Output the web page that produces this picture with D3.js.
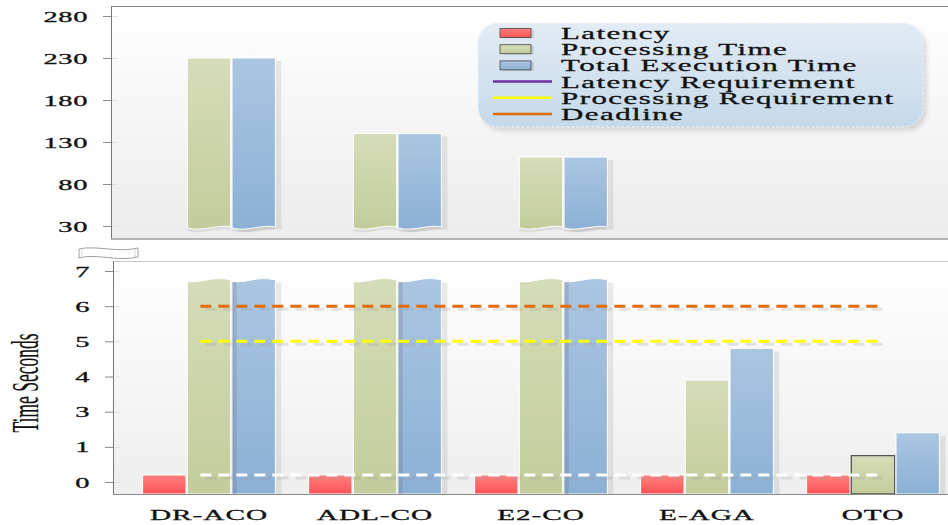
<!DOCTYPE html>
<html>
<head>
<meta charset="utf-8">
<script src="https://cdn.jsdelivr.net/npm/d3@7"></script>
<style>
  html, body { margin: 0; padding: 0; background: #fff; }
  svg { display: block; }
  text { font-family: "Liberation Serif", "Times New Roman", serif; fill: #111; stroke: #111; stroke-width: 0.3; }
</style>
</head>
<body>
<svg id="chart" width="948" height="525"></svg>
<script>
// ---- data ----
const categories = ['DR-ACO', 'ADL-CO', 'E2-CO', 'E-AGA', 'OTO'];
const seriesNames = ['Latency', 'Processing Time', 'Total Execution Time'];
const latency = [0.2, 0.2, 0.2, 0.2, 0.2];
const processingTime = [230, 140, 112, 3.9, 0.75];
const totalExecutionTime = [230, 140, 112, 4.8, 1.8];
const upperTicks = [30, 80, 130, 180, 230, 280];
const lowerTicks = [0, 1, 3, 4, 5, 6, 7];
const latencyRequirement = 0.2;
const processingRequirement = 5;
const deadline = 6;
const legendLabels = ['Latency', 'Processing Time', 'Total Execution Time',
                      'Latency Requirement', 'Processing Requirement', 'Deadline'];
const axisTitle = 'Time Seconds';

// ---- layout ----
const W = 948, H = 525;
const upper = { left: 111, top: 6, right: 948, bottom: 239 };
const lower = { left: 113, top: 261, right: 948, bottom: 494 };
const breakCap = 6.75;           // where bars that leave the lower panel are cut
const seriesColors = {
  'Latency': ['#ff8080', '#ff5353'],
  'Processing Time': ['#d5dcb9', '#c3cd9b'],
  'Total Execution Time': ['#abc6e1', '#8cb0d5']
};
const lineColors = { latency: '#7030a0', processing: '#ffff00', deadline: '#e36c0a' };

const svg = d3.select('#chart');
const defs = svg.append('defs');

function vGrad(id, c0, c1) {
  const g = defs.append('linearGradient').attr('id', id)
    .attr('x1', 0).attr('y1', 0).attr('x2', 0).attr('y2', 1);
  g.append('stop').attr('offset', '0%').attr('stop-color', c0);
  g.append('stop').attr('offset', '100%').attr('stop-color', c1);
}
vGrad('bgUpper', '#ffffff', '#ececec');
vGrad('bgLower', '#ffffff', '#eeeeee');
vGrad('legendBg', '#e3ecf5', '#c4d9ea');
seriesNames.forEach((s, i) => vGrad('g' + i, seriesColors[s][0], seriesColors[s][1]));
defs.append('filter').attr('id', 'soft').append('feGaussianBlur').attr('stdDeviation', 2);

// ---- scales ----
const x0 = d3.scaleBand().domain(categories).range([126, 956]).paddingInner(0.2).paddingOuter(0.1);
const x1 = d3.scaleBand().domain(seriesNames).range([0, x0.bandwidth()]).paddingInner(0.03);
const yUpper = d3.scaleLinear().domain([30, 280]).range([226, 16]);
const lowerStep = (482 - 271) / (lowerTicks.length - 1);
const yLower = d3.scaleLinear().domain(lowerTicks).range(lowerTicks.map((d, i) => 482 - i * lowerStep));

const values = [latency, processingTime, totalExecutionTime];
const rows = [];
categories.forEach((c, ci) => seriesNames.forEach((s, si) => {
  rows.push({ cat: c, series: s, si: si, v: values[si][ci] });
}));
const lowerMax = lowerTicks[lowerTicks.length - 1];

// ---- panel backgrounds ----
svg.append('rect').attr('x', upper.left).attr('y', upper.top)
  .attr('width', upper.right - upper.left).attr('height', upper.bottom - upper.top)
  .attr('fill', 'url(#bgUpper)');
svg.append('rect').attr('x', lower.left).attr('y', lower.top)
  .attr('width', lower.right - lower.left).attr('height', lower.bottom - lower.top)
  .attr('fill', 'url(#bgLower)');

// ---- bars ----
const barX = d => x0(d.cat) + x1(d.series);
const bw = x1.bandwidth();

// upper panel: only the bars that run past the break
const upperBase = yUpper(upperTicks[0]) + 2;
const upperRows = rows.filter(d => d.v > lowerMax);
const gUp = svg.append('g');
function upperPath(d, dy) {
  const x = barX(d), t = yUpper(d.v) + dy, b = upperBase + dy;
  return `M${x},${t}L${x + bw},${t}L${x + bw},${b - 1}` +
         `C${x + bw * 0.7},${b - 4} ${x + bw * 0.35},${b + 4} ${x},${b}Z`;
}
gUp.selectAll('path.shadow').data(upperRows.filter(d => d.si === 2)).join('path')
  .attr('d', d => upperPath(d, 3)).attr('transform', 'translate(6,0)')
  .attr('fill', '#000').attr('opacity', 0.08);
gUp.selectAll('path.wave').data(upperRows).join('path')
  .attr('d', d => upperPath(d, 3)).attr('fill', '#000').attr('opacity', 0.07);
gUp.selectAll('path.bar').data(upperRows).join('path')
  .attr('d', d => upperPath(d, 0))
  .attr('fill', d => `url(#g${d.si})`).attr('stroke', '#fff').attr('stroke-width', 1);

// lower panel
const gLow = svg.append('g');
const capY = yLower(breakCap);
function lowerPath(d) {
  const x = barX(d), b = lower.bottom;
  if (d.v > lowerMax) {
    const t = capY;
    return `M${x},${b}L${x},${t + 2}C${x + bw * 0.4},${t + 3} ${x + bw * 0.55},${t - 4} ${x + bw},${t}L${x + bw},${b}Z`;
  }
  const t = yLower(d.v);
  return `M${x},${b}L${x},${t}L${x + bw},${t}L${x + bw},${b}Z`;
}
// drop shadows to the right of processing / total bars
gLow.selectAll('rect.shadow').data(rows.filter(d => d.si === 2)).join('rect')
  .attr('x', d => barX(d) + bw).attr('width', 6)
  .attr('y', d => (d.v > lowerMax ? capY : yLower(d.v)) + 3)
  .attr('height', d => lower.bottom - (d.v > lowerMax ? capY : yLower(d.v)) - 3)
  .attr('fill', '#000').attr('opacity', 0.08);
gLow.selectAll('path.bar').data(rows).join('path')
  .attr('d', lowerPath)
  .attr('fill', d => `url(#g${d.si})`)
  .attr('stroke', d => (d.cat === 'OTO' && d.si === 1) ? '#555' : '#fff')
  .attr('stroke-width', d => (d.cat === 'OTO' && d.si === 1) ? 1.3 : 1);
gLow.selectAll('rect.pshadow').data(rows.filter(d => d.si === 1 && d.v > lowerMax)).join('rect')
  .attr('x', d => barX(d) + bw + 1).attr('width', 5)
  .attr('y', capY + 2).attr('height', lower.bottom - capY - 2)
  .attr('fill', '#556').attr('opacity', 0.18);

// ---- requirement lines ----
const lineX1 = x0(categories[0]) + x1('Processing Time') + bw * 0.3;
const lineX2 = x0(categories[categories.length - 1]) + x1('Processing Time') + bw * 0.65;
const reqLines = [
  { v: latencyRequirement, color: '#ffffff' },
  { v: processingRequirement, color: lineColors.processing },
  { v: deadline, color: lineColors.deadline }
];
const gLines = svg.append('g');
reqLines.forEach(r => {
  const y = yLower(r.v);
  gLines.append('line').attr('x1', lineX1 + 5).attr('x2', lineX2 + 5)
    .attr('y1', y + 3).attr('y2', y + 3)
    .attr('stroke', '#9a9a9a').attr('stroke-opacity', 0.25).attr('stroke-width', 3)
    .attr('stroke-dasharray', '11,7');
  gLines.append('line').attr('x1', lineX1).attr('x2', lineX2)
    .attr('y1', y).attr('y2', y)
    .attr('stroke', r.color).attr('stroke-width', 3)
    .attr('stroke-dasharray', '11,7');
});

// ---- panel borders ----
const gB = svg.append('g').attr('fill', 'none');
gB.append('line').attr('x1', upper.left).attr('x2', upper.right).attr('y1', upper.top + 0.5).attr('y2', upper.top + 0.5).attr('stroke', '#8c8c8c');
gB.append('line').attr('x1', upper.left + 0.5).attr('x2', upper.left + 0.5).attr('y1', upper.top).attr('y2', upper.bottom).attr('stroke', '#777');
gB.append('line').attr('x1', upper.left).attr('x2', upper.right).attr('y1', upper.bottom).attr('y2', upper.bottom).attr('stroke', '#b4b4b4').attr('stroke-width', 2);
gB.append('line').attr('x1', lower.left).attr('x2', lower.right).attr('y1', lower.top + 0.5).attr('y2', lower.top + 0.5).attr('stroke', '#c8c8c8');
gB.append('line').attr('x1', lower.left + 0.5).attr('x2', lower.left + 0.5).attr('y1', lower.top).attr('y2', lower.bottom).attr('stroke', '#777');
gB.append('line').attr('x1', lower.left).attr('x2', lower.right).attr('y1', lower.bottom + 0.5).attr('y2', lower.bottom + 0.5).attr('stroke', '#8a8a8a');

// ---- axis break marker ----
svg.append('path')
  .attr('d', 'M79,249C95,245 118,253 138,248L138,257C118,262 95,253 79,258Z')
  .attr('fill', '#fff').attr('stroke', '#888').attr('stroke-width', 0.8);
svg.append('path')
  .attr('d', 'M82,250L82,258M135,248L135,257')
  .attr('stroke', '#bbb').attr('stroke-width', 0.6);

// ---- y axes ----
const tickSX = 1.9, tickLS = 0.3;
function styleAxis(g, axisX) {
  g.attr('transform', `translate(${axisX},0)`);
  g.select('.domain').remove();
  g.selectAll('.tick line').attr('stroke', '#888');
  g.selectAll('.tick').append('line').attr('x1', 1).attr('x2', 7).attr('stroke', '#e2e2e2');
  g.selectAll('.tick text')
    .attr('font-family', '"Liberation Serif", serif').attr('font-size', 15).attr('fill', '#111')
    .attr('letter-spacing', tickLS)
    .attr('x', -23 / tickSX).attr('dy', '0.34em')
    .attr('transform', `scale(${tickSX},1)`);
}
svg.append('g')
  .call(d3.axisLeft(yUpper).tickValues(upperTicks).tickSize(8).tickFormat(d3.format('d')))
  .call(g => styleAxis(g, upper.left));
svg.append('g')
  .call(d3.axisLeft(yLower).tickValues(lowerTicks).tickSize(8).tickFormat(d3.format('d')))
  .call(g => styleAxis(g, lower.left));

// ---- category labels ----
const labSX = 1.95, labLS = 0.5;
svg.append('g').selectAll('g').data(categories).join('g')
  .attr('transform', d => `translate(${x0(d) + x0.bandwidth() / 2},520) scale(${labSX},1)`)
  .append('text').attr('text-anchor', 'middle').attr('font-size', 15)
  .attr('letter-spacing', labLS).text(d => d);

// ---- y title ----
svg.append('g').attr('transform', 'translate(38,383) rotate(-90)')
  .append('text').attr('text-anchor', 'middle').attr('font-size', 38)
  .attr('textLength', 99).attr('lengthAdjust', 'spacingAndGlyphs')
  .style('stroke-width', 0.2)
  .text(axisTitle);

// ---- legend ----
const lg = svg.append('g');
const box = { x: 478, y: 23, w: 445, h: 104 };
lg.append('rect').attr('x', box.x + 4).attr('y', box.y + 4).attr('width', box.w).attr('height', box.h)
  .attr('rx', 20).attr('fill', '#000').attr('opacity', 0.12).attr('filter', 'url(#soft)');
lg.append('rect').attr('x', box.x).attr('y', box.y).attr('width', box.w).attr('height', box.h)
  .attr('rx', 20).attr('fill', 'url(#legendBg)')
  .attr('stroke', '#f2f6fa').attr('stroke-dasharray', '3,2').attr('stroke-width', 1);
const rowY = i => 33 + i * 16.2;
const legSX = 1.82, legLS = 0.8;
legendLabels.forEach((label, i) => {
  const y = rowY(i);
  if (i < 3) {
    lg.append('rect').attr('x', 503).attr('y', y - 3.5).attr('width', 31).attr('height', 9)
      .attr('fill', '#000').attr('opacity', 0.1);
    lg.append('rect').attr('x', 500).attr('y', y - 4.5).attr('width', 31).attr('height', 9)
      .attr('fill', `url(#g${i})`).attr('stroke', '#444').attr('stroke-width', 0.8);
  } else {
    const c = [lineColors.latency, lineColors.processing, lineColors.deadline][i - 3];
    lg.append('line').attr('x1', 493).attr('x2', 552).attr('y1', y).attr('y2', y)
      .attr('stroke', c).attr('stroke-width', 2.5);
  }
  lg.append('g').attr('transform', `translate(561,${y + 6}) scale(${legSX},1)`)
    .append('text').attr('font-size', 17).attr('letter-spacing', legLS).text(label);
});
</script>
</body>
</html>
